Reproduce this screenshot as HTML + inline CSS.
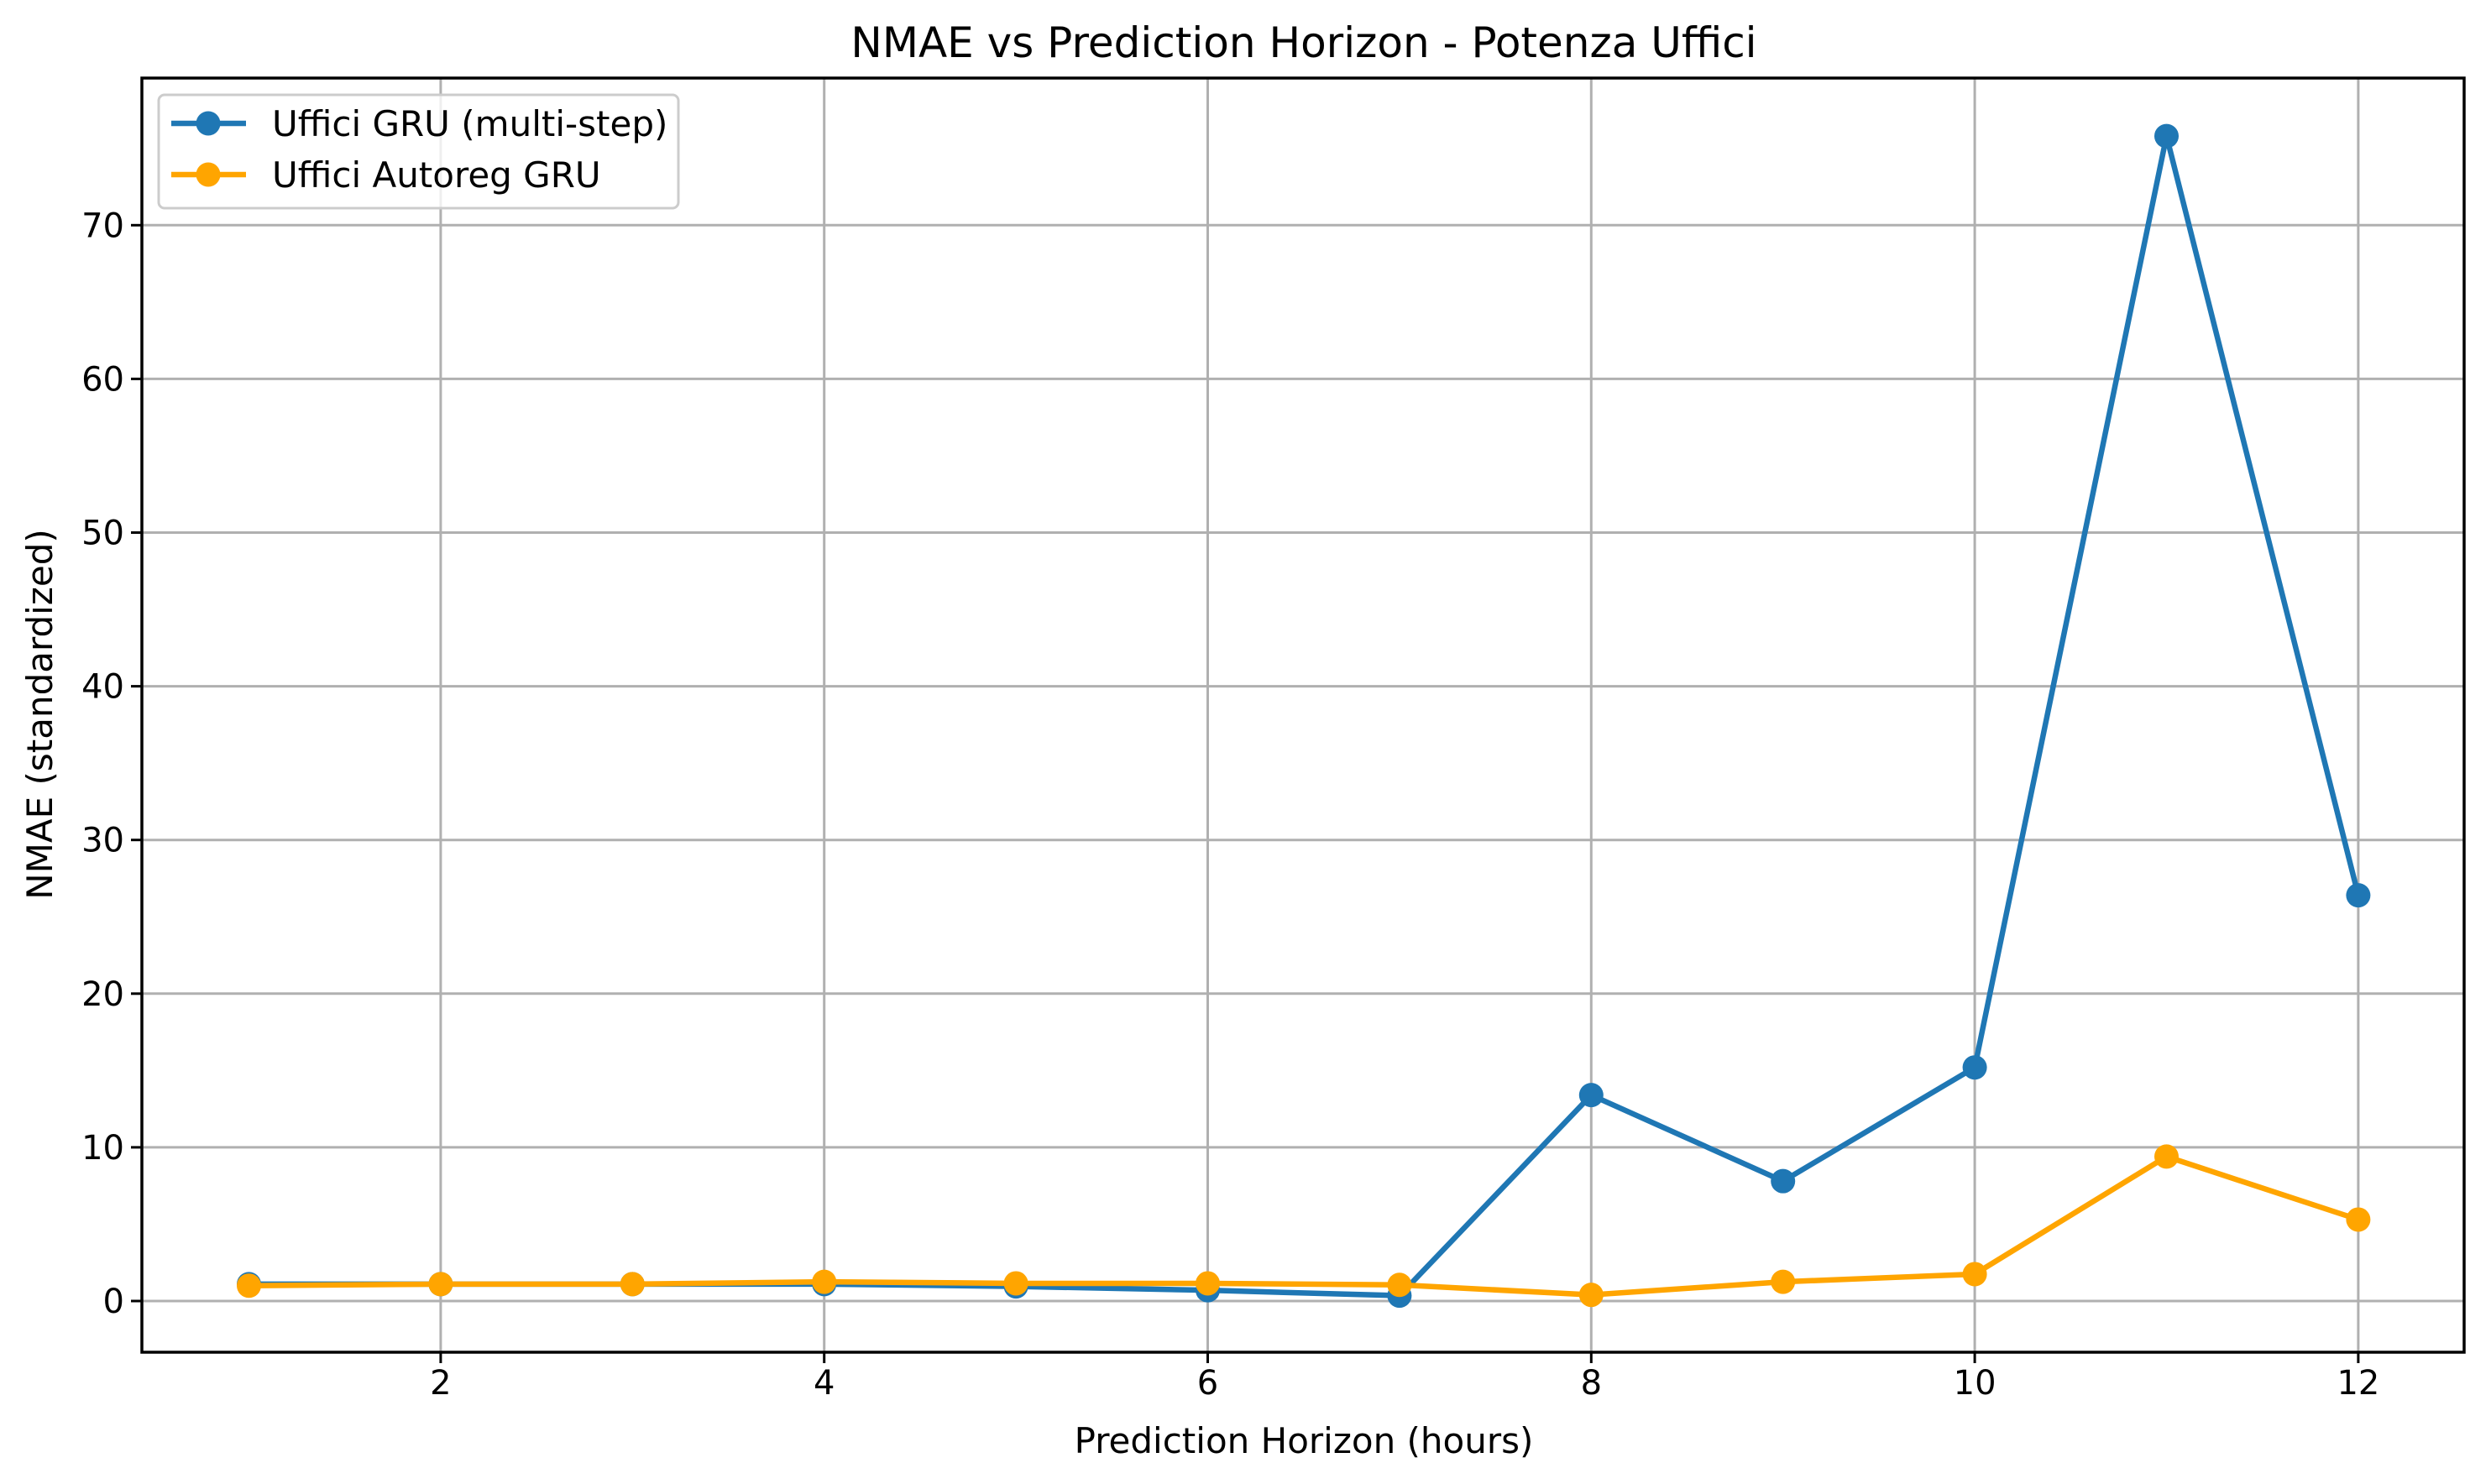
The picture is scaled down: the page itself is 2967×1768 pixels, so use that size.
<!DOCTYPE html>
<html><head><meta charset="utf-8"><style>
body{margin:0;background:#fff;}
svg{display:block;font-family:"DejaVu Sans","Liberation Sans",sans-serif;}
</style></head><body>
<svg id="chart" width="2967" height="1768" viewBox="0 0 2967 1768">
<rect width="2967" height="1768" fill="#fff"/>
<text x="1553" y="68" font-size="50" text-anchor="middle">NMAE vs Prediction Horizon - Potenza Uffici</text>
<text x="1553" y="1731" font-size="42" text-anchor="middle">Prediction Horizon (hours)</text>
<text transform="translate(62,851) rotate(-90)" font-size="42" text-anchor="middle">NMAE (standardized)</text>
<g id="grid"></g><g id="series"></g><g id="ticks"></g>
<rect x="169" y="93" width="2766" height="1518" fill="none" stroke="#000" stroke-width="3.5"/>
<g>
<rect x="189" y="113" width="619" height="135" rx="7" fill="#fff" fill-opacity="0.8" stroke="#ccc" stroke-width="3"/>
<g>
<line x1="204" y1="147" x2="293" y2="147" stroke="#1f77b4" stroke-width="6.5"/><circle cx="248" cy="147" r="14.5" fill="#1f77b4"/>
<text x="324" y="162" font-size="42">Uffici GRU (multi-step)</text></g>
<g>
<line x1="204" y1="208" x2="293" y2="208" stroke="#ffa500" stroke-width="6.5"/><circle cx="248" cy="208" r="14.5" fill="#ffa500"/>
<text x="324" y="223" font-size="42">Uffici Autoreg GRU</text></g>
</g>
</svg>
<script>
const horizons=[1,2,3,4,5,6,7,8,9,10,11,12];
const gruValues=[1.1,1.1,1.1,1.1,0.95,0.7,0.35,13.4,7.8,15.2,75.8,26.4];
const autoregValues=[1.0,1.1,1.1,1.25,1.15,1.15,1.05,0.4,1.25,1.75,9.4,5.3];
const xTicks=[2,4,6,8,10,12];
const yTicks=[0,10,20,30,40,50,60,70];
const NS="http://www.w3.org/2000/svg";
function xs(v){return 296.5+(v-1)*228.4;}
function ys(v){return 1550-v*18.31;}
function mk(tag,attrs,parent){const e=document.createElementNS(NS,tag);for(const k in attrs)e.setAttribute(k,attrs[k]);parent.appendChild(e);return e;}
const grid=document.getElementById('grid'),ticks=document.getElementById('ticks'),series=document.getElementById('series');
xTicks.forEach(t=>{
 const g=mk('line',{x1:xs(t),x2:xs(t),y1:93,y2:1611,stroke:'#b0b0b0','stroke-width':3},grid);
 
 
 mk('line',{x1:xs(t),x2:xs(t),y1:1611,y2:1624,stroke:'#000','stroke-width':3},ticks);
 const l=mk('text',{x:xs(t),y:1661,'font-size':40,'text-anchor':'middle'},ticks);l.textContent=t;
 
 
});
yTicks.forEach(t=>{
 const g=mk('line',{x1:169,x2:2935,y1:ys(t),y2:ys(t),stroke:'#b0b0b0','stroke-width':3},grid);
 
 
 mk('line',{x1:156,x2:169,y1:ys(t),y2:ys(t),stroke:'#000','stroke-width':3},ticks);
 const l=mk('text',{x:148,y:ys(t)+14,'font-size':40,'text-anchor':'end'},ticks);l.textContent=t;
 
 
});
function draw(vals,color,name){
 const pts=horizons.map((h,i)=>xs(h)+','+ys(vals[i])).join(' ');
 const pl=mk('polyline',{points:pts,fill:'none',stroke:color,'stroke-width':6.5,'stroke-linejoin':'round'},series);
 
 
 horizons.forEach((h,i)=>{
  const c=mk('circle',{cx:xs(h),cy:ys(vals[i]),r:14.5,fill:color},series);
  
  
 });
}
draw(gruValues,'#1f77b4','gru-series');
draw(autoregValues,'#ffa500','autoreg-series');
</script>
</body></html>
